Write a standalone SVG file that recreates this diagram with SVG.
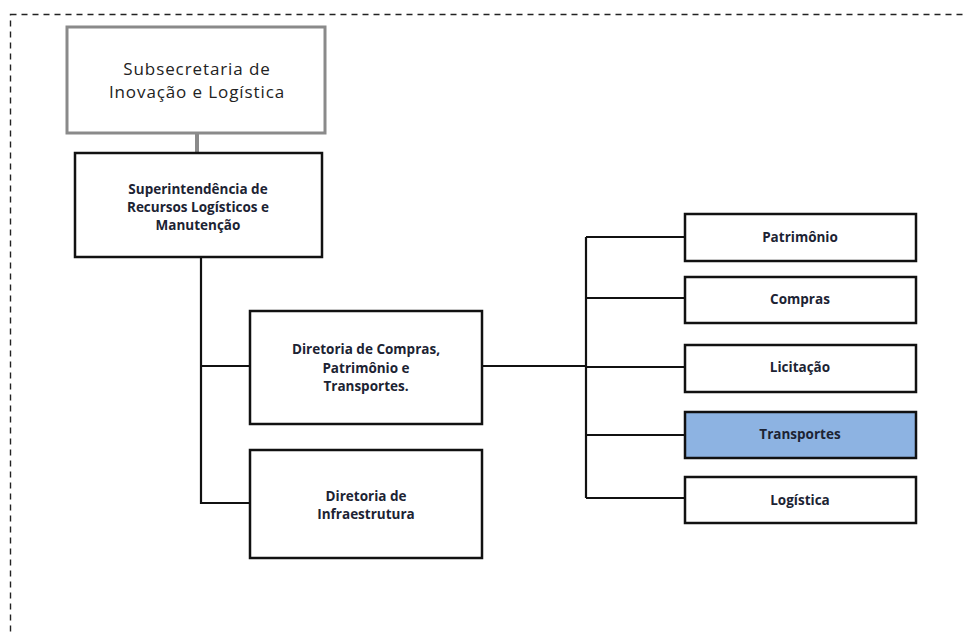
<svg xmlns="http://www.w3.org/2000/svg" width="963" height="632" viewBox="0 0 963 632">
  <style>
    .frame { fill: none; stroke: #222; stroke-width: 1.4; stroke-dasharray: 6 5; }
    .box { fill: #ffffff; stroke: #111; stroke-width: 2.5; }
    .box-top { fill: #ffffff; stroke: #8a8a8a; stroke-width: 3; }
    .box-hl { fill: #8db3e2; stroke: #111; stroke-width: 2.5; }
    .link { fill: none; stroke: #111; stroke-width: 2.2; }
    .link-top { fill: none; stroke: #8a8a8a; stroke-width: 4; }
    .t { font-family: "Open Sans", "Liberation Sans", sans-serif; text-anchor: middle; fill: #1c2333; }
    .t-top { font-size: 17px; letter-spacing: 0.9px; fill: #222; }
    .t-b { font-size: 13.5px; font-weight: bold; }
  </style>

  <rect class="frame" x="10.5" y="14.5" width="1000" height="700"/>

  <g id="connectors">
    <line class="link-top" x1="197" y1="133" x2="197" y2="153"/>
    <polyline class="link" points="201,257 201,503 250,503"/>
    <line class="link" x1="201" y1="366" x2="250" y2="366"/>
    <line class="link" x1="482" y1="366" x2="586" y2="366"/>
    <line class="link" x1="586" y1="237" x2="586" y2="498"/>
    <line class="link" x1="586" y1="237" x2="685" y2="237"/>
    <line class="link" x1="586" y1="298" x2="685" y2="298"/>
    <line class="link" x1="586" y1="367" x2="685" y2="367"/>
    <line class="link" x1="586" y1="435" x2="685" y2="435"/>
    <line class="link" x1="586" y1="498" x2="685" y2="498"/>
  </g>

  <g id="subsecretaria">
    <rect class="box-top" x="67" y="27" width="258" height="106"/>
    <text class="t t-top" x="197" y="75">Subsecretaria de</text>
    <text class="t t-top" x="197" y="98">Inovação e Logística</text>
  </g>

  <g id="superintendencia">
    <rect class="box" x="75" y="153" width="247" height="104"/>
    <text class="t t-b" x="198" y="194">Superintendência de</text>
    <text class="t t-b" x="198" y="212">Recursos Logísticos e</text>
    <text class="t t-b" x="198" y="230">Manutenção</text>
  </g>

  <g id="diretoria-compras">
    <rect class="box" x="250" y="311" width="232" height="113"/>
    <text class="t t-b" x="366" y="354">Diretoria de Compras,</text>
    <text class="t t-b" x="366" y="373">Patrimônio e</text>
    <text class="t t-b" x="366" y="391">Transportes.</text>
  </g>

  <g id="diretoria-infraestrutura">
    <rect class="box" x="250" y="450" width="232" height="108"/>
    <text class="t t-b" x="366" y="501">Diretoria de</text>
    <text class="t t-b" x="366" y="519">Infraestrutura</text>
  </g>

  <g id="patrimonio">
    <rect class="box" x="685" y="214" width="231" height="47"/>
    <text class="t t-b" x="800" y="242">Patrimônio</text>
  </g>

  <g id="compras">
    <rect class="box" x="685" y="277" width="231" height="46"/>
    <text class="t t-b" x="800" y="304">Compras</text>
  </g>

  <g id="licitacao">
    <rect class="box" x="685" y="345" width="231" height="47"/>
    <text class="t t-b" x="800" y="372">Licitação</text>
  </g>

  <g id="transportes">
    <rect class="box-hl" x="685" y="412" width="231" height="46"/>
    <text class="t t-b" x="800" y="439">Transportes</text>
  </g>

  <g id="logistica">
    <rect class="box" x="685" y="477" width="231" height="46"/>
    <text class="t t-b" x="800" y="505">Logística</text>
  </g>
</svg>
